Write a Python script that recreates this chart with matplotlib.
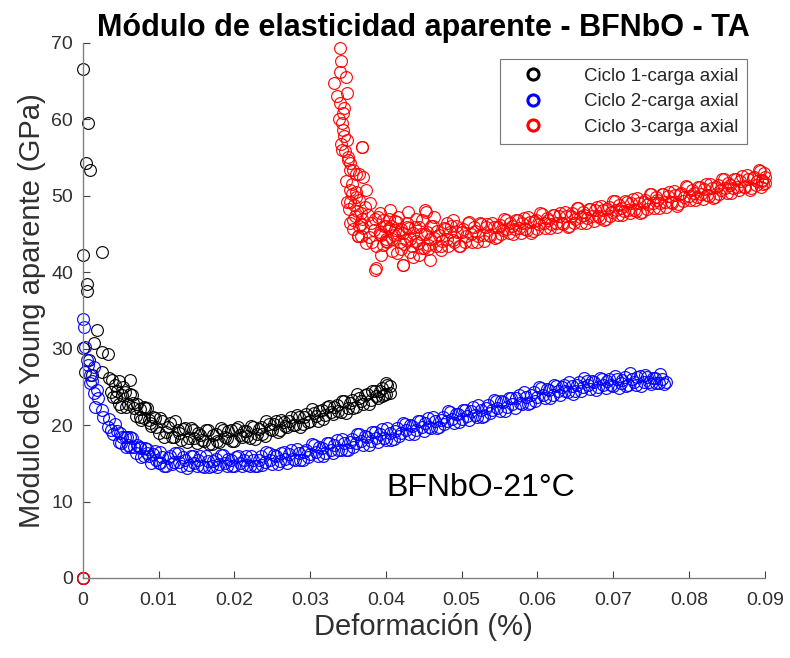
import matplotlib
matplotlib.use("Agg")
import matplotlib.pyplot as plt
from matplotlib.lines import Line2D

# strain values are given in units of 1e-4 % (divided by 1e4 when drawn)
# ---- Ciclo 1 ----
ciclo1_x = [0, 0, 7, 4, 9, 0, 25, 6, 6, 0, 18, 14, 25, 33, 3, 8, 12, 25, 38, 62, 48, 53, 44, 66, 80, 75, 88,
            35, 40, 45, 50, 55, 60, 65, 70, 75, 80, 85, 90, 95, 100, 105, 110, 115, 120, 125, 130,
            135, 140, 145, 150, 155, 160, 165, 170, 175, 180, 185, 190, 195, 200, 205, 210, 215, 220,
            225, 230, 235, 240, 245, 250, 255, 260, 265, 270, 275, 280, 285, 290, 295, 300, 305, 310,
            315, 320, 325, 330, 335, 340, 345, 350, 355, 360, 365, 370, 375, 380, 385, 390, 395, 400,
            405, 400, 405, 395]
ciclo1_y = [0.0, 66.6, 59.5, 54.3, 53.4, 42.3, 42.6, 38.5, 37.5, 30.1, 32.5, 30.7, 29.6, 29.3, 27.0, 28.5,
            26.5, 27.0, 25.9, 25.9, 25.8, 25.0, 23.7, 22.9, 22.4, 21.1, 20.3,
            26.2, 23.7, 24.5, 22.4, 24.3, 22.7, 24.0, 21.2, 22.1, 20.9, 22.2, 19.9, 20.9, 19.0, 20.6, 19.1,
            20.3, 18.4, 19.4, 18.0, 19.6, 18.3, 19.3, 17.7, 18.7, 17.9, 19.4, 17.5, 18.9, 17.8, 19.4, 18.3,
            19.3, 17.9, 19.8, 18.4, 19.2, 18.3, 19.8, 18.8, 19.8, 18.6, 20.1, 19.3, 20.5, 19.3, 20.4, 19.7,
            21.1, 20.0, 21.1, 20.1, 21.5, 20.5, 21.6, 20.6, 22.0, 21.3, 22.5, 21.5, 22.6, 21.7, 23.1, 22.2,
            23.3, 22.4, 23.6, 22.8, 24.1, 23.3, 24.5, 23.5, 24.9, 24.1, 25.1, 25.5, 24.2, 23.8]
ciclo1_x_b = [37, 42, 47, 52, 57, 62, 67, 72, 77, 82, 87, 92, 97, 102, 107, 112, 117, 122, 127, 132, 137,
              142, 147, 152, 157, 162, 167, 172, 177, 182, 187, 192, 197, 202, 207, 212, 217, 222, 227,
              232, 237, 242, 247, 252, 257, 262, 267, 272, 277, 282, 287, 292, 297, 302, 307, 312, 317,
              322, 327, 332, 337, 342, 347, 352, 357, 362, 367, 372, 377, 382, 387, 392, 397, 402]
ciclo1_y_b = [24.3, 25.3, 22.7, 23.9, 22.4, 24.1, 22.3, 22.7, 20.7, 22.2, 20.7, 21.0, 19.7, 20.9, 18.5,
              19.8, 18.5, 20.5, 19.0, 19.5, 17.8, 19.6, 18.3, 19.0, 18.1, 19.3, 17.5, 18.7, 17.9, 19.6,
              18.5, 19.2, 17.9, 19.5, 18.7, 19.2, 18.6, 19.9, 18.2, 19.5, 18.8, 20.5, 19.5, 20.2, 19.1,
              20.7, 19.9, 20.6, 20.0, 21.3, 19.7, 21.0, 20.4, 22.1, 21.2, 21.9, 20.8, 22.4, 21.7, 22.4,
              21.8, 23.2, 21.6, 22.9, 22.3, 24.1, 23.2, 23.9, 22.8, 24.5, 23.8, 24.4, 23.9, 25.3]

# ---- Ciclo 2 ----
ciclo2_x = [0, 0, 2, 3, 7, 14, 9, 9, 14, 18, 16, 27, 33, 49, 58, 62, 75, 84, 102, 5, 12, 20, 25,
            35, 40, 45, 50, 55, 60, 65, 70, 75, 80, 85, 90, 95, 100, 105, 110, 115, 120, 125, 130,
            135, 140, 145, 150, 155, 160, 165, 170, 175, 180, 185, 190, 195, 200, 205, 210, 215, 220,
            225, 230, 235, 240, 245, 250, 255, 260, 265, 270, 275, 280, 285, 290, 295, 300, 305, 310,
            315, 320, 325, 330, 335, 340, 345, 350, 355, 360, 365, 370, 375, 380, 385, 390, 395, 400,
            405, 410, 415, 420, 425, 430, 435, 440, 445, 450, 455, 460, 465, 470, 475, 480, 485, 490,
            495, 500, 505, 510, 515, 520, 525, 530, 535, 540, 545, 550, 555, 560, 565, 570, 575, 580,
            585, 590, 595, 600, 605, 610, 615, 620, 625, 630, 635, 640, 645, 650, 655, 660, 665, 670,
            675, 680, 685, 690, 695, 700, 705, 710, 715, 720, 725, 730, 735, 740, 745, 750, 755, 760,
            765, 770]
ciclo2_y = [0.0, 33.9, 32.9, 30.2, 27.9, 27.6, 26.6, 25.5, 24.2, 24.6, 22.4, 21.1, 19.8, 19.0, 18.5, 17.2,
            17.2, 16.3, 15.0, 28.5, 25.8, 23.5, 22.0,
            20.8, 18.9, 19.2, 17.6, 18.5, 17.4, 18.3, 16.3, 17.0, 16.0, 16.9, 15.0, 16.6, 15.1, 15.8, 14.6,
            16.0, 15.2, 16.3, 14.6, 15.5, 14.8, 15.9, 14.6, 15.9, 14.5, 15.3, 14.6, 15.6, 14.9, 16.1, 14.6,
            15.4, 14.7, 15.9, 14.7, 16.0, 14.6, 15.5, 14.7, 15.9, 15.2, 16.4, 14.9, 15.9, 15.3, 16.5, 15.1,
            16.7, 15.4, 16.3, 15.4, 16.8, 16.2, 17.4, 15.9, 17.0, 16.4, 17.6, 16.3, 18.0, 16.7, 17.6, 16.8,
            18.2, 17.6, 18.8, 17.4, 18.5, 17.9, 19.1, 17.8, 19.5, 18.1, 19.0, 18.2, 19.6, 19.0, 20.2, 18.8,
            19.9, 19.3, 20.5, 19.2, 20.9, 19.6, 20.5, 19.7, 21.1, 20.5, 21.7, 20.3, 21.4, 20.8, 22.0, 20.7,
            22.4, 21.1, 22.0, 21.2, 22.6, 22.0, 23.2, 21.8, 23.0, 22.4, 23.6, 22.3, 24.0, 22.8, 23.7, 22.9,
            24.3, 23.7, 24.8, 23.5, 24.6, 24.0, 25.1, 23.9, 25.3, 24.3, 25.1, 24.4, 25.6, 25.0, 25.8, 24.7,
            25.7, 25.0, 26.1, 24.9, 26.1, 25.1, 26.0, 25.5, 26.3, 25.2, 26.0, 25.3, 26.4, 25.6, 26.3, 25.4,
            26.2, 25.5, 26.1, 25.7]
ciclo2_x_b = [37, 42, 47, 52, 57, 62, 67, 72, 77, 82, 87, 92, 97, 102, 107, 112, 117, 122, 127, 132, 137,
              142, 147, 152, 157, 162, 167, 172, 177, 182, 187, 192, 197, 202, 207, 212, 217, 222, 227,
              232, 237, 242, 247, 252, 257, 262, 267, 272, 277, 282, 287, 292, 297, 302, 307, 312, 317,
              322, 327, 332, 337, 342, 347, 352, 357, 362, 367, 372, 377, 382, 387, 392, 397, 402, 407,
              412, 417, 422, 427, 432, 437, 442, 447, 452, 457, 462, 467, 472, 477, 482, 487, 492, 497,
              502, 507, 512, 517, 522, 527, 532, 537, 542, 547, 552, 557, 562, 567, 572, 577, 582, 587,
              592, 597, 602, 607, 612, 617, 622, 627, 632, 637, 642, 647, 652, 657, 662, 667, 672, 677,
              682, 687, 692, 697, 702, 707, 712, 717, 722, 727, 732, 737, 742, 747, 752, 757, 762, 767]
ciclo2_y_b = [19.4, 20.1, 17.8, 18.5, 17.2, 18.5, 17.1, 17.4, 15.8, 17.0, 15.9, 16.2, 15.4, 16.5, 14.6,
              15.7, 14.9, 16.4, 15.2, 15.8, 14.4, 15.9, 15.0, 15.4, 14.7, 15.9, 14.5, 15.3, 14.5, 16.1,
              15.0, 15.6, 14.6, 15.8, 15.0, 15.5, 14.8, 16.0, 14.7, 15.5, 14.8, 16.5, 15.4, 16.1, 14.9,
              16.4, 15.6, 16.2, 15.6, 16.9, 15.4, 16.5, 15.8, 17.5, 16.5, 17.2, 16.0, 17.6, 16.8, 17.4,
              16.8, 18.2, 16.7, 17.8, 17.1, 18.9, 17.9, 18.6, 17.4, 19.1, 18.3, 18.9, 18.3, 19.6, 18.1,
              19.2, 18.6, 20.3, 19.3, 20.0, 18.9, 20.5, 19.7, 20.3, 19.8, 21.1, 19.6, 20.7, 20.1, 21.8,
              20.8, 21.5, 20.4, 22.0, 21.2, 21.8, 21.3, 22.6, 21.1, 22.2, 21.6, 23.3, 22.3, 23.1, 21.9,
              23.6, 22.8, 23.5, 22.9, 24.3, 22.8, 23.9, 23.2, 25.0, 24.0, 24.7, 23.5, 25.2, 24.4, 25.0,
              24.4, 25.7, 24.1, 25.2, 24.5, 26.2, 25.2, 25.8, 24.6, 26.2, 25.3, 25.8, 25.2, 26.4, 24.9,
              25.9, 25.1, 26.8, 25.7, 26.3, 25.1, 26.6, 25.7, 26.2, 25.5, 26.7, 25.4]

# ---- Ciclo 3 ----
ciclo3_x = [0, 0, 339, 341, 339, 347, 332, 349, 339, 343, 343, 348, 368, 350, 357, 370, 348, 357, 363, 387,
            423, 453, 488, 342, 350, 368, 353, 360, 365, 353, 353, 361, 374, 379, 359, 353, 367, 392, 405,
            429, 451, 363, 367, 387, 394, 385, 423, 414, 436, 458, 400,
            355, 360, 365, 372, 376, 380, 384, 378, 370, 362, 367, 374, 382, 386, 392, 396, 400, 404, 408,
            412, 416, 420, 428, 432, 440, 444, 448, 456, 464, 472, 480,
            336, 338, 342, 345, 340, 346, 352, 347, 355, 351, 358, 364, 369, 345, 356,
            390, 394, 398, 402, 406, 410, 414, 418, 422, 426, 430, 434, 438, 442, 446, 450, 454, 458, 462,
            466, 470, 474, 478, 482, 486, 490, 494, 498, 502, 506, 510, 514, 518, 522, 526, 530, 534, 538,
            542, 546, 550, 554, 558, 562, 566, 570, 574, 578, 582, 586, 590, 594, 598, 602, 606, 610, 614,
            618, 622, 626, 630, 634, 638, 642, 646, 650, 654, 658, 662, 666, 670, 674, 678, 682, 686, 690,
            694, 698, 702, 706, 710, 714, 718, 722, 726, 730, 734, 738, 742, 746, 750, 754, 758, 762, 766,
            770, 774, 778, 782, 786, 790, 794, 798, 802, 806, 810, 814, 818, 822, 826, 830, 834, 838, 842,
            846, 850, 854, 858, 862, 866, 870, 874, 878, 882, 886, 890, 894, 898, 900, 899, 897, 895, 900]
ciclo3_y = [0.0, 0.0, 69.3, 67.6, 66.2, 65.6, 64.7, 63.4, 62.1, 60.8, 58.6, 57.3, 56.4, 55.1, 53.4, 52.5,
            49.2, 46.8, 44.7, 40.5, 41.0, 47.9, 46.8, 56.0, 54.7, 56.4, 53.4, 52.9, 52.9, 50.8, 49.2, 49.9,
            50.8, 49.0, 47.3, 46.4, 47.7, 47.7, 48.2, 47.9, 48.2, 44.7, 44.7, 43.4, 42.3, 40.3, 41.0, 42.5,
            42.0, 41.6, 46.0,
            51.5, 50.5, 49.5, 48.5, 47.5, 46.5, 45.5, 44.6, 45.8, 48.0, 46.3, 43.8, 44.0, 47.0, 45.0, 43.6,
            44.3, 47.0, 42.8, 45.5, 47.2, 43.0, 46.5, 42.6, 47.0, 42.3, 46.8, 43.0, 47.2, 42.9, 46.5,
            63.0, 60.0, 59.5, 57.8, 56.8, 55.8, 54.3, 52.0, 50.3, 48.3, 48.8, 46.0, 47.0, 61.5, 45.6,
            47.2, 44.9, 46.0, 44.0, 46.0, 44.9, 46.6, 43.9, 45.1, 44.2, 45.8, 43.4, 45.9, 43.8, 45.0, 43.2,
            45.3, 44.3, 46.1, 43.5, 44.9, 44.1, 45.7, 43.4, 46.0, 43.9, 45.3, 43.5, 45.7, 44.7, 46.6, 44.0,
            45.4, 44.7, 46.3, 44.1, 46.3, 44.8, 45.9, 44.6, 46.2, 45.5, 46.9, 45.1, 46.0, 45.6, 46.8, 45.2,
            47.1, 45.5, 46.6, 45.4, 46.9, 46.3, 47.6, 45.8, 46.8, 46.3, 47.5, 45.9, 47.8, 46.3, 47.3, 46.1,
            47.7, 47.0, 48.4, 46.5, 47.5, 47.1, 48.3, 46.7, 48.6, 47.1, 48.2, 47.0, 48.5, 47.9, 49.3, 47.5,
            48.4, 48.0, 49.2, 47.7, 49.6, 48.0, 49.1, 47.9, 49.5, 48.9, 50.2, 48.4, 49.4, 49.0, 50.2, 48.6,
            50.5, 49.0, 50.1, 48.9, 50.4, 49.8, 51.2, 49.4, 50.4, 49.9, 51.1, 49.6, 51.5, 50.0, 51.0, 49.8,
            51.4, 50.8, 52.2, 50.4, 51.4, 51.0, 52.2, 50.7, 52.6, 51.1, 52.2, 51.0, 52.5, 51.9, 53.3, 51.5,
            52.4, 53.0, 52.0, 51.2, 51.7]
ciclo3_x_b = [392, 396, 400, 404, 408, 412, 416, 420, 424, 428, 432, 436, 440, 444, 448, 452, 456, 460,
              464, 468, 472, 476, 480, 484, 488, 492, 496, 500, 504, 508, 512, 516, 520, 524, 528, 532,
              536, 540, 544, 548, 552, 556, 560, 564, 568, 572, 576, 580, 584, 588, 592, 596, 600, 604,
              608, 612, 616, 620, 624, 628, 632, 636, 640, 644, 648, 652, 656, 660, 664, 668, 672, 676,
              680, 684, 688, 692, 696, 700, 704, 708, 712, 716, 720, 724, 728, 732, 736, 740, 744, 748,
              752, 756, 760, 764, 768, 772, 776, 780, 784, 788, 792, 796, 800, 804, 808, 812, 816, 820,
              824, 828, 832, 836, 840, 844, 848, 852, 856, 860, 864, 868, 872, 876, 880, 884, 888, 892, 896]
ciclo3_y_b = [45.3, 46.9, 44.1, 45.8, 44.3, 46.7, 45.0, 45.7, 43.7, 45.9, 44.4, 45.2, 44.1, 45.9, 43.2,
              45.0, 43.6, 46.1, 44.5, 45.4, 43.5, 45.8, 44.3, 45.3, 44.2, 46.0, 43.5, 45.3, 44.0, 46.5,
              45.0, 45.9, 44.0, 46.4, 44.9, 45.9, 44.9, 46.4, 44.5, 45.9, 45.0, 47.0, 45.7, 46.4, 45.0,
              46.8, 45.8, 46.5, 45.7, 47.2, 45.2, 46.7, 45.7, 47.7, 46.4, 47.1, 45.8, 47.5, 46.5, 47.3,
              46.4, 47.9, 45.9, 47.4, 46.5, 48.4, 47.2, 47.9, 46.5, 48.3, 47.3, 48.1, 47.3, 48.7, 46.8,
              48.3, 47.4, 49.3, 48.1, 48.8, 47.5, 49.3, 48.2, 49.0, 48.2, 49.7, 47.8, 49.2, 48.3, 50.3,
              49.1, 49.8, 48.4, 50.2, 49.2, 50.0, 49.2, 50.6, 48.7, 50.2, 49.3, 51.3, 50.0, 50.7, 49.4,
              51.2, 50.2, 50.9, 50.1, 51.6, 49.7, 51.2, 50.2, 52.2, 51.0, 51.7, 50.4, 52.2, 51.2, 52.0,
              51.2, 52.7, 50.8, 52.3, 51.4, 53.4, 52.1]

series_labels = ["Ciclo 1-carga axial", "Ciclo 2-carga axial", "Ciclo 3-carga axial"]
series_colors = ["#000000", "#0000ff", "#ff0000"]
x_ticks = [0, 0.01, 0.02, 0.03, 0.04, 0.05, 0.06, 0.07, 0.08, 0.09]
x_tick_labels = ["0", "0.01", "0.02", "0.03", "0.04", "0.05", "0.06", "0.07", "0.08", "0.09"]
y_ticks = [0, 10, 20, 30, 40, 50, 60, 70]

plt.rcParams['font.family'] = ['Liberation Sans', 'DejaVu Sans']

fig = plt.figure(figsize=(7.90, 6.58), dpi=100)
ax = fig.add_axes([0.105, 0.1216, 0.863, 0.8131])

series = [(ciclo1_x + ciclo1_x_b, ciclo1_y + ciclo1_y_b),
          (ciclo2_x + ciclo2_x_b, ciclo2_y + ciclo2_y_b),
          (ciclo3_x + ciclo3_x_b, ciclo3_y + ciclo3_y_b)]
for (xs, ys), col in zip(series, series_colors):
    ax.plot([v / 1e4 for v in xs], ys, linestyle='none', marker='o', markersize=8.5,
            markerfacecolor='none', markeredgecolor=col, markeredgewidth=0.85, alpha=0.95,
            clip_on=False)

ax.set_xlim(0, 0.09)
ax.set_ylim(0, 70)
ax.set_xticks(x_ticks)
ax.set_xticklabels(x_tick_labels)
ax.set_yticks(y_ticks)
for s in ['top', 'right']:
    ax.spines[s].set_visible(False)
for s in ['left', 'bottom']:
    ax.spines[s].set_color('#808080')
    ax.spines[s].set_linewidth(1.0)
ax.tick_params(direction='in', length=5, width=0.8, color='#404040', labelsize=14,
               labelcolor='#303030')
ax.tick_params(axis='x', pad=10)
ax.tick_params(axis='y', pad=7)

ax.set_xlabel("Deformación (%)", fontsize=21, color='#303030', labelpad=3)
ax.set_ylabel("Módulo de Young aparente (GPa)", fontsize=21, color='#303030', labelpad=4)
ax.set_title("Módulo de elasticidad aparente - BFNbO - TA", fontsize=22, fontweight='bold', pad=4)

ax.text(0.0401, 11.8, "BFNbO-21°C", fontsize=23, va='center', ha='left', color='black')

handles = [Line2D([], [], linestyle='none', marker='o', markersize=8, markerfacecolor='none',
                  markeredgecolor=c, markeredgewidth=2.2) for c in series_colors]
leg = ax.legend(handles, series_labels, loc='upper right', bbox_to_anchor=(0.9736, 0.970),
                borderaxespad=0, fontsize=13.5, frameon=True, fancybox=False, edgecolor='#555555',
                handletextpad=1.4, borderpad=0.45, labelspacing=0.45, handlelength=2.6)
leg.get_frame().set_linewidth(0.8)
for t in leg.get_texts():
    t.set_color('#262626')

fig.savefig("out.png", dpi=100)
